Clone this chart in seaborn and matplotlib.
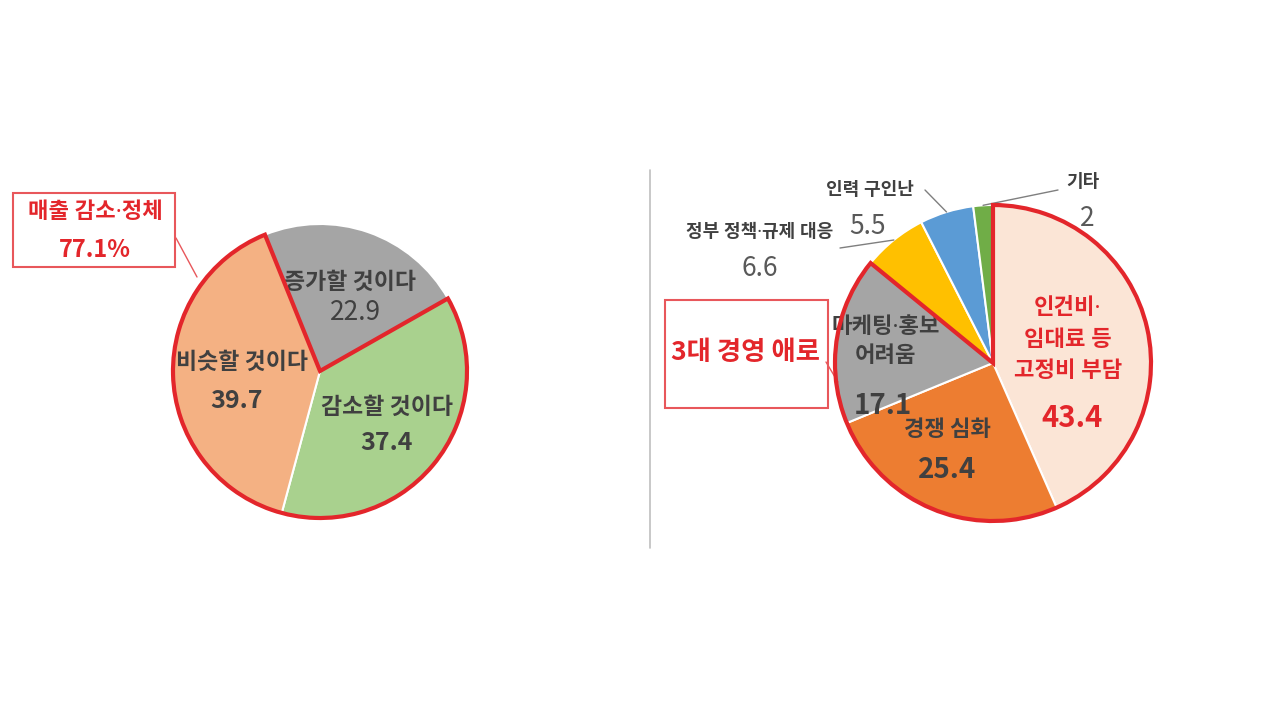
import matplotlib
matplotlib.use("Agg")
import matplotlib.pyplot as plt
import seaborn as sns
import numpy as np
from matplotlib.patches import Wedge, Rectangle

# left pie: 매출 전망
left_labels = ["증가할 것이다", "감소할 것이다", "비슷할 것이다"]
left_values = [22.9, 37.4, 39.7]
left_box_text = "매출 감소·정체"

# right pie: 경영 애로
right_labels = ["인건비·\n임대료 등\n고정비 부담", "경쟁 심화", "마케팅·홍보\n어려움",
                "정부 정책·규제 대응", "인력 구인난", "기타"]
right_values = [43.4, 25.4, 17.1, 6.6, 5.5, 2]
right_box_text = "3대 경영 애로"

sns.set_theme(style="white")
plt.rcParams["font.family"] = ["Noto Sans CJK KR", "DejaVu Sans"]
# narrow middle dot: latin font first, hangul falls back to CJK
DOTFONT = ["Noto Sans", "Noto Sans CJK KR"]

RED = "#E3262B"
DARK = "#404040"
H = 720

left_colors = ["#A5A5A5", "#A9D18E", "#F4B183"]
right_colors = ["#FBE5D6", "#ED7D31", "#A5A5A5", "#FFC000", "#5B9BD5", "#70AD47"]

fig = plt.figure(figsize=(12.8, 7.2), dpi=100)
ax = fig.add_axes([0, 0, 1, 1])
ax.set_xlim(0, 1280)
ax.set_ylim(0, H)
ax.set_aspect("equal")
ax.axis("off")


def P(x, y):
    return (x, H - y)


# ---- left pie
lc, lr = P(320, 371), 147
lw_, _ = ax.pie(left_values, colors=left_colors, startangle=112, counterclock=False,
                center=lc, radius=lr, frame=True,
                wedgeprops=dict(edgecolor="white", linewidth=1.5))
t1 = min(w.theta1 for w in lw_[1:])
t2 = max(w.theta2 for w in lw_[1:])
ax.add_patch(Wedge(lc, lr, t1, t2, fill=False, edgecolor=RED, linewidth=3, zorder=5))

ax.text(*P(350, 282), left_labels[0], ha="center", va="center", fontsize=16.5, fontweight="bold", color=DARK)
ax.text(*P(355, 312), f"{left_values[0]}", ha="center", va="center", fontsize=19, color=DARK)
ax.text(*P(387, 407), left_labels[1], ha="center", va="center", fontsize=16.5, fontweight="bold", color=DARK)
ax.text(*P(387, 443), f"{left_values[1]}", ha="center", va="center", fontsize=18, fontweight="bold", color=DARK)
ax.text(*P(242, 362), left_labels[2], ha="center", va="center", fontsize=16.5, fontweight="bold", color=DARK)
ax.text(*P(237, 401), f"{left_values[2]}", ha="center", va="center", fontsize=18, fontweight="bold", color=DARK)

ax.add_patch(Rectangle(P(13, 267), 162, 74, fill=False, edgecolor="#E8575B", linewidth=1.5))
ax.text(*P(95, 213), left_box_text, ha="center", va="center", fontsize=16, fontweight="bold",
        color=RED, family=DOTFONT)
ax.text(*P(95, 250), f"{sum(left_values[1:]):.1f}%", ha="center", va="center",
        fontsize=17, fontweight="bold", color=RED)
ax.plot(*zip(P(176, 238), P(197, 277)), color="#E8575B", linewidth=1)

# separator
ax.plot(*zip(P(650, 170), P(650, 548)), color="#BFBFBF", linewidth=1.2)

# ---- right pie
rc, rr = P(993, 363), 158
rw, _ = ax.pie(right_values, colors=right_colors, startangle=90, counterclock=False,
               center=rc, radius=rr, frame=True,
               wedgeprops=dict(edgecolor="white", linewidth=1.5))
t1 = min(w.theta1 for w in rw[:3])
t2 = max(w.theta2 for w in rw[:3])
ax.add_patch(Wedge(rc, rr, t1, t2, fill=False, edgecolor=RED, linewidth=3, zorder=5))

ax.text(*P(1068, 340), right_labels[0], ha="center", va="center", fontsize=16,
        fontweight="bold", color=RED, linespacing=1.65, family=DOTFONT)
ax.text(*P(1072, 418), f"{right_values[0]}", ha="center", va="center", fontsize=21,
        fontweight="bold", color=RED)
ax.text(*P(947, 430), right_labels[1], ha="center", va="center", fontsize=16, fontweight="bold", color=DARK)
ax.text(*P(947, 470), f"{right_values[1]}", ha="center", va="center", fontsize=20, fontweight="bold", color=DARK)
ax.text(*P(886, 342), right_labels[2], ha="center", va="center", fontsize=16,
        fontweight="bold", color=DARK, linespacing=1.55, family=DOTFONT)
ax.text(*P(883, 406), f"{right_values[2]}", ha="center", va="center", fontsize=20, fontweight="bold", color=DARK)

# outer labels with leader lines
outer = [(3, (760, 232), (760, 268), (840, 248)),
         (4, (870, 190), (868, 227), (925, 190)),
         (5, (1083, 182), (1087, 218), (1058, 190))]
for i, lab_xy, val_xy, line_xy in outer:
    w = rw[i]
    ang = np.deg2rad((w.theta1 + w.theta2) / 2)
    edge = (rc[0] + rr * np.cos(ang), rc[1] + rr * np.sin(ang))
    ax.text(*P(*lab_xy), right_labels[i], ha="center", va="center", fontsize=13,
            fontweight="bold", color=DARK, family=DOTFONT)
    v = right_values[i]
    ax.text(*P(*val_xy), f"{v:g}", ha="center", va="center", fontsize=19, color="#595959")
    ax.annotate("", xy=edge, xytext=P(*line_xy),
                arrowprops=dict(arrowstyle="-", color="#7F7F7F", linewidth=1, shrinkA=0, shrinkB=0))

ax.add_patch(Rectangle(P(665, 408), 163, 108, fill=False, edgecolor="#E8575B", linewidth=1.5))
ax.text(*P(745, 352), right_box_text, ha="center", va="center", fontsize=19, fontweight="bold", color=RED)
ax.plot(*zip(P(826, 362), P(838, 382)), color="#E8575B", linewidth=1)

ax.set_xlim(0, 1280)
ax.set_ylim(0, H)
fig.savefig("out.png", dpi=100, facecolor="white")
